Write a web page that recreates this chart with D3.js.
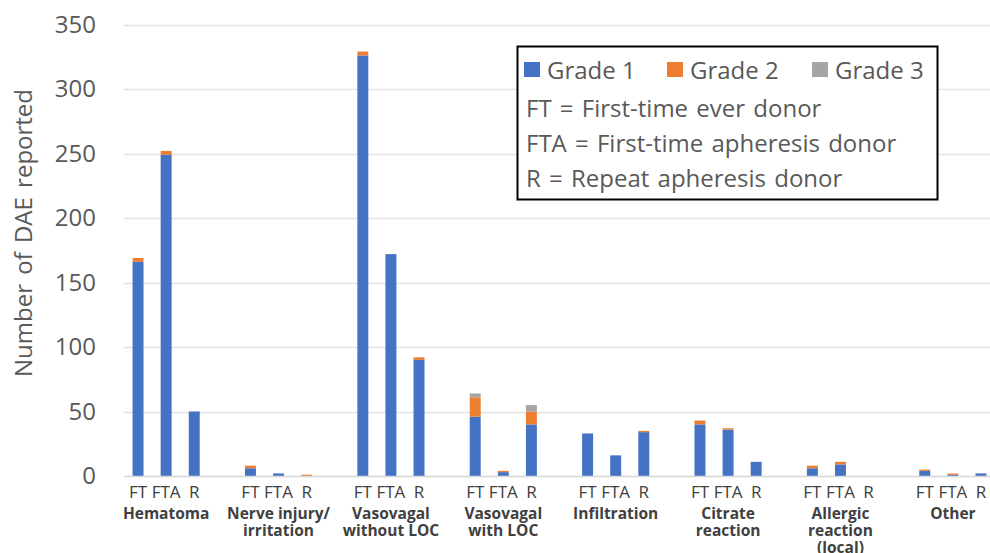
<!DOCTYPE html>
<html>
<head>
<meta charset="utf-8">
<script src="https://cdn.jsdelivr.net/npm/d3@7"></script>
<style>
  body { margin: 0; background: #fff; }
  svg { display: block; font-family: "Open Sans", "Noto Sans", sans-serif; }
</style>
</head>
<body>
<div id="chart"></div>
<script>
const groups = ["Hematoma", "Nerve injury/|irritation", "Vasovagal|without LOC", "Vasovagal|with LOC",
  "Infiltration", "Citrate|reaction", "Allergic|reaction|(local)", "Other"];
const donorTypes = ["FT", "FTA", "R"];
// one value per bar: group by group, FT / FTA / R
const grade1 = [166, 249, 50, 6, 2, 0, 326, 172, 90, 46, 3, 40, 33, 16, 34, 40, 36, 11, 6, 9, 0, 4, 1, 2];
const grade2 = [3, 3, 0, 2, 0, 1, 3, 0, 2, 15, 1, 10, 0, 0, 1, 3, 1, 0, 2, 2, 0, 1, 1, 0];
const grade3 = [0, 0, 0, 0, 0, 0, 0, 0, 0, 3, 0, 5, 0, 0, 0, 0, 0, 0, 0, 0, 0, 0, 0, 0];
const gradeNames = ["Grade 1", "Grade 2", "Grade 3"];
const colors = ["#4472C4", "#ED7D31", "#A5A5A5"];
const yTicks = [0, 50, 100, 150, 200, 250, 300, 350];
const notes = ["FT = First-time ever donor", "FTA = First-time apheresis donor", "R = Repeat apheresis donor"];

const width = 990, height = 553;
const svg = d3.select("#chart").append("svg").attr("width", width).attr("height", height);

// slots: 3 bars per group plus a blank slot between groups
const slots = [];
groups.forEach((g, gi) => {
  donorTypes.forEach((t, ti) => slots.push({ key: gi + "-" + t, group: gi, type: t, i: gi * 3 + ti }));
  if (gi < groups.length - 1) slots.push({ key: gi + "-gap", blank: true });
});
const bars = slots.filter((s) => !s.blank);

const x = d3.scaleBand()
  .domain(slots.map((s) => s.key))
  .range([124, 995])
  .paddingInner(0.61)
  .paddingOuter(0.305);
const y = d3.scaleLinear().domain([0, 350]).range([476, 24.5]);

// gridlines
svg.append("g")
  .selectAll("line")
  .data(yTicks)
  .join("line")
  .attr("x1", 124).attr("x2", 995)
  .attr("y1", (d) => Math.round(y(d)) + 0.5).attr("y2", (d) => Math.round(y(d)) + 0.5)
  .attr("stroke", "#e3e3e3").attr("stroke-width", 1.3);

// y axis labels
const yAxis = svg.append("g")
  .attr("transform", "translate(124,0)")
  .call(d3.axisLeft(y).tickValues(yTicks).tickSize(0).tickPadding(28));
yAxis.select(".domain").remove();
yAxis.selectAll("text").attr("font-size", 24).attr("fill", "#595959")
  .attr("font-family", "Open Sans, sans-serif");

svg.append("text")
  .attr("transform", "translate(32,233) rotate(-90)")
  .attr("text-anchor", "middle")
  .attr("font-size", 24).attr("fill", "#595959")
  .attr("word-spacing", 3)
  .text("Number of DAE  reported");

// stacked bars
const stackData = bars.map((b) => ({ key: b.key, g1: grade1[b.i], g2: grade2[b.i], g3: grade3[b.i] }));
const series = d3.stack().keys(["g1", "g2", "g3"])(stackData);

svg.append("g")
  .selectAll("g")
  .data(series)
  .join("g")
  .attr("fill", (d, i) => colors[i])
  .selectAll("rect")
  .data((d) => d)
  .join("rect")
  .attr("x", (d) => x(d.data.key))
  .attr("width", x.bandwidth())
  .attr("y", (d) => y(d[1]))
  .attr("height", (d) => y(d[0]) - y(d[1]));

// baseline
svg.append("line")
  .attr("x1", 124).attr("x2", 995)
  .attr("y1", 476.5).attr("y2", 476.5)
  .attr("stroke", "#d9d9d9").attr("stroke-width", 1.3);

// donor type labels
svg.append("g")
  .selectAll("text")
  .data(bars)
  .join("text")
  .attr("x", (d) => x(d.key) + x.bandwidth() / 2)
  .attr("y", 498)
  .attr("text-anchor", "middle")
  .attr("font-size", 17).attr("fill", "#404040")
  .text((d) => d.type);

// group labels, one text per line
const lines = [];
groups.forEach((g, gi) => g.split("|").forEach((t, li) => lines.push({ gi, li, t })));
svg.append("g")
  .selectAll("text")
  .data(lines)
  .join("text")
  .attr("x", (d) => x(d.gi + "-FTA") + x.bandwidth() / 2)
  .attr("y", (d) => 519 + d.li * 17)
  .attr("text-anchor", "middle")
  .attr("font-size", 15.5).attr("font-weight", "bold").attr("fill", "#404040")
  .text((d) => d.t);

// legend box
const legend = svg.append("g");
legend.append("rect")
  .attr("x", 517.5).attr("y", 46.5).attr("width", 420).attr("height", 153)
  .attr("fill", "#fff").attr("stroke", "#000").attr("stroke-width", 2);

const legendX = [524, 667, 812];
const items = legend.selectAll("g.item")
  .data(gradeNames)
  .join("g")
  .attr("class", "item")
  .attr("transform", (d, i) => `translate(${legendX[i]},0)`);
items.append("rect")
  .attr("x", 0).attr("y", 62).attr("width", 16).attr("height", 15)
  .attr("fill", (d, i) => colors[i]);
items.append("text")
  .attr("x", 23).attr("y", 79)
  .attr("font-size", 24).attr("fill", "#595959")
  .text((d) => d);

legend.selectAll("text.note")
  .data(notes)
  .join("text")
  .attr("class", "note")
  .attr("x", 526)
  .attr("y", (d, i) => 117 + i * 35)
  .attr("font-size", 24).attr("fill", "#595959")
  .attr("word-spacing", 2)
  .text((d) => d);
</script>
</body>
</html>
